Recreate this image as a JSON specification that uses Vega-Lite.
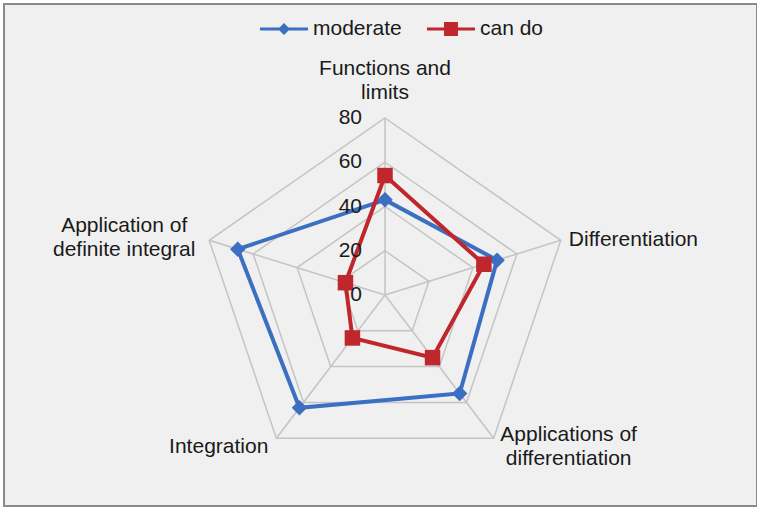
{
  "$schema": "https://vega.github.io/schema/vega-lite/v6.json",
  "width": 753,
  "height": 502,
  "padding": {"left": 4, "top": 4, "right": 0, "bottom": 4},
  "autosize": {"type": "none"},
  "background": "#ffffff",
  "config": {
    "view": {"fill": "#f0f0f0", "stroke": "#8a8a8a", "strokeWidth": 2},
    "font": "Liberation Sans",
    "text": {"font": "Liberation Sans", "fontSize": 21, "color": "#1a1a1a", "lineBreak": "\n", "lineHeight": 24}
  },
  "datasets": {
    "cats": [
      {"cat": "Functions and\nlimits", "k": 0},
      {"cat": "Differentiation", "k": 1},
      {"cat": "Applications of\ndifferentiation", "k": 2},
      {"cat": "Integration", "k": 3},
      {"cat": "Application of\ndefinite integral", "k": 4}
    ],
    "grid": [
      {"level": 20, "k": 0}, {"level": 20, "k": 1}, {"level": 20, "k": 2}, {"level": 20, "k": 3}, {"level": 20, "k": 4},
      {"level": 40, "k": 0}, {"level": 40, "k": 1}, {"level": 40, "k": 2}, {"level": 40, "k": 3}, {"level": 40, "k": 4},
      {"level": 60, "k": 0}, {"level": 60, "k": 1}, {"level": 60, "k": 2}, {"level": 60, "k": 3}, {"level": 60, "k": 4},
      {"level": 80, "k": 0}, {"level": 80, "k": 1}, {"level": 80, "k": 2}, {"level": 80, "k": 3}, {"level": 80, "k": 4}
    ],
    "ticks": [{"level": 0, "lab": "0"}, {"level": 20, "lab": "20"}, {"level": 40, "lab": "40"}, {"level": 60, "lab": "60"}, {"level": 80, "lab": "80"}],
    "main": [
      {"series": "moderate", "k": 0, "value": 43},
      {"series": "moderate", "k": 1, "value": 51},
      {"series": "moderate", "k": 2, "value": 55},
      {"series": "moderate", "k": 3, "value": 63},
      {"series": "moderate", "k": 4, "value": 67},
      {"series": "can do", "k": 0, "value": 54},
      {"series": "can do", "k": 1, "value": 45},
      {"series": "can do", "k": 2, "value": 35},
      {"series": "can do", "k": 3, "value": 24},
      {"series": "can do", "k": 4, "value": 18}
    ]
  },
  "encoding": {
    "x": {"field": "x", "type": "quantitative", "scale": {"domain": [-164.9, 161.0]}, "axis": null},
    "y": {"field": "y", "type": "quantitative", "scale": {"domain": [-95.37, 131.53]}, "axis": null}
  },
  "layer": [
    {
      "data": {"name": "grid"},
      "transform": [
        {"calculate": "datum.k * 2 * PI / 5", "as": "a"},
        {"calculate": "datum.level * sin(datum.a)", "as": "x"},
        {"calculate": "datum.level * cos(datum.a)", "as": "y"}
      ],
      "mark": {"type": "line", "interpolate": "linear-closed", "stroke": "#c4c4c4", "strokeWidth": 1.5},
      "encoding": {
        "detail": {"field": "level"},
        "order": {"field": "k", "type": "quantitative"}
      }
    },
    {
      "data": {"name": "cats"},
      "transform": [
        {"calculate": "datum.k * 2 * PI / 5", "as": "a"},
        {"calculate": "80 * sin(datum.a)", "as": "x"},
        {"calculate": "80 * cos(datum.a)", "as": "y"}
      ],
      "mark": {"type": "rule", "stroke": "#c4c4c4", "strokeWidth": 1.5},
      "encoding": {
        "x": {"datum": 0, "type": "quantitative"},
        "y": {"datum": 0, "type": "quantitative"},
        "x2": {"field": "x"},
        "y2": {"field": "y"}
      }
    },
    {
      "data": {"name": "main"},
      "transform": [
        {"filter": "datum.series === 'moderate'"},
        {"calculate": "datum.k * 2 * PI / 5", "as": "a"},
        {"calculate": "datum.value * sin(datum.a)", "as": "x"},
        {"calculate": "datum.value * cos(datum.a)", "as": "y"}
      ],
      "mark": {"type": "line", "interpolate": "linear-closed", "stroke": "#3b6fc2", "strokeWidth": 4},
      "encoding": {"order": {"field": "k", "type": "quantitative"}}
    },
    {
      "data": {"name": "main"},
      "transform": [
        {"filter": "datum.series === 'can do'"},
        {"calculate": "datum.k * 2 * PI / 5", "as": "a"},
        {"calculate": "datum.value * sin(datum.a)", "as": "x"},
        {"calculate": "datum.value * cos(datum.a)", "as": "y"}
      ],
      "mark": {"type": "line", "interpolate": "linear-closed", "stroke": "#c0272d", "strokeWidth": 4},
      "encoding": {"order": {"field": "k", "type": "quantitative"}}
    },
    {
      "data": {"name": "main"},
      "transform": [
        {"filter": "datum.series === 'moderate'"},
        {"calculate": "datum.k * 2 * PI / 5", "as": "a"},
        {"calculate": "datum.value * sin(datum.a)", "as": "x"},
        {"calculate": "datum.value * cos(datum.a)", "as": "y"}
      ],
      "mark": {"type": "point", "shape": "diamond", "filled": true, "size": 240, "color": "#3b6fc2", "opacity": 1}
    },
    {
      "data": {"name": "main"},
      "transform": [
        {"filter": "datum.series === 'can do'"},
        {"calculate": "datum.k * 2 * PI / 5", "as": "a"},
        {"calculate": "datum.value * sin(datum.a)", "as": "x"},
        {"calculate": "datum.value * cos(datum.a)", "as": "y"}
      ],
      "mark": {"type": "point", "shape": "square", "filled": true, "size": 240, "color": "#c0272d", "opacity": 1}
    },
    {
      "data": {"name": "ticks"},
      "transform": [
        {"calculate": "0", "as": "x"},
        {"calculate": "datum.level", "as": "y"}
      ],
      "mark": {"type": "text", "align": "right", "baseline": "middle", "dx": -23},
      "encoding": {
        "text": {"field": "lab", "type": "nominal"}
      }
    },
    {
      "data": {"name": "cats"},
      "transform": [
        {"filter": "datum.k === 0"},
        {"calculate": "datum.k * 2 * PI / 5", "as": "a"},
        {"calculate": "80 * sin(datum.a)", "as": "x"},
        {"calculate": "80 * cos(datum.a)", "as": "y"}
      ],
      "mark": {"type": "text", "align": "center", "baseline": "bottom", "dy": -39},
      "encoding": {"text": {"field": "cat"}}
    },
    {
      "data": {"name": "cats"},
      "transform": [
        {"filter": "datum.k === 1"},
        {"calculate": "datum.k * 2 * PI / 5", "as": "a"},
        {"calculate": "80 * sin(datum.a)", "as": "x"},
        {"calculate": "80 * cos(datum.a)", "as": "y"}
      ],
      "mark": {"type": "text", "align": "left", "baseline": "middle", "dx": 8, "dy": 0},
      "encoding": {"text": {"field": "cat"}}
    },
    {
      "data": {"name": "cats"},
      "transform": [
        {"filter": "datum.k === 2"},
        {"calculate": "datum.k * 2 * PI / 5", "as": "a"},
        {"calculate": "80 * sin(datum.a)", "as": "x"},
        {"calculate": "80 * cos(datum.a)", "as": "y"}
      ],
      "mark": {"type": "text", "align": "center", "baseline": "top", "dx": 75, "dy": -14},
      "encoding": {"text": {"field": "cat"}}
    },
    {
      "data": {"name": "cats"},
      "transform": [
        {"filter": "datum.k === 3"},
        {"calculate": "datum.k * 2 * PI / 5", "as": "a"},
        {"calculate": "80 * sin(datum.a)", "as": "x"},
        {"calculate": "80 * cos(datum.a)", "as": "y"}
      ],
      "mark": {"type": "text", "align": "right", "baseline": "middle", "dx": -8, "dy": 9},
      "encoding": {"text": {"field": "cat"}}
    },
    {
      "data": {"name": "cats"},
      "transform": [
        {"filter": "datum.k === 4"},
        {"calculate": "datum.k * 2 * PI / 5", "as": "a"},
        {"calculate": "80 * sin(datum.a)", "as": "x"},
        {"calculate": "80 * cos(datum.a)", "as": "y"}
      ],
      "mark": {"type": "text", "align": "center", "baseline": "middle", "dx": -85, "dy": -14},
      "encoding": {"text": {"field": "cat"}}
    },
    {
      "data": {"name": "main"},
      "transform": [
        {"calculate": "datum.k * 2 * PI / 5", "as": "a"},
        {"calculate": "datum.value * sin(datum.a)", "as": "x"},
        {"calculate": "datum.value * cos(datum.a)", "as": "y"}
      ],
      "mark": {"type": "point", "filled": true, "opacity": 0},
      "encoding": {
        "color": {
          "field": "series", "type": "nominal",
          "scale": {"domain": ["moderate", "can do"], "range": ["#3b6fc2", "#c0272d"]},
          "legend": {"title": null, "orient": "none", "direction": "horizontal", "legendX": 256, "legendY": 1, "symbolSize": 2304, "symbolStrokeWidth": 0, "symbolOpacity": 1, "labelFontSize": 21, "labelFont": "Liberation Sans", "labelColor": "#1a1a1a", "labelOffset": 5, "columnPadding": 25}
        },
        "shape": {
          "field": "series", "type": "nominal",
          "scale": {"domain": ["moderate", "can do"], "range": ["M-1,-0.067H1V0.067H-1Z M0,-0.25L0.25,0L0,0.25L-0.25,0Z", "M-1,-0.067H1V0.067H-1Z M-0.29,-0.29H0.29V0.29H-0.29Z"]},
          "legend": {"title": null, "orient": "none", "direction": "horizontal", "legendX": 256, "legendY": 1, "symbolSize": 2304, "symbolStrokeWidth": 0, "symbolOpacity": 1, "labelFontSize": 21, "labelFont": "Liberation Sans", "labelColor": "#1a1a1a", "labelOffset": 5, "columnPadding": 25}
        }
      }
    }
  ]
}
